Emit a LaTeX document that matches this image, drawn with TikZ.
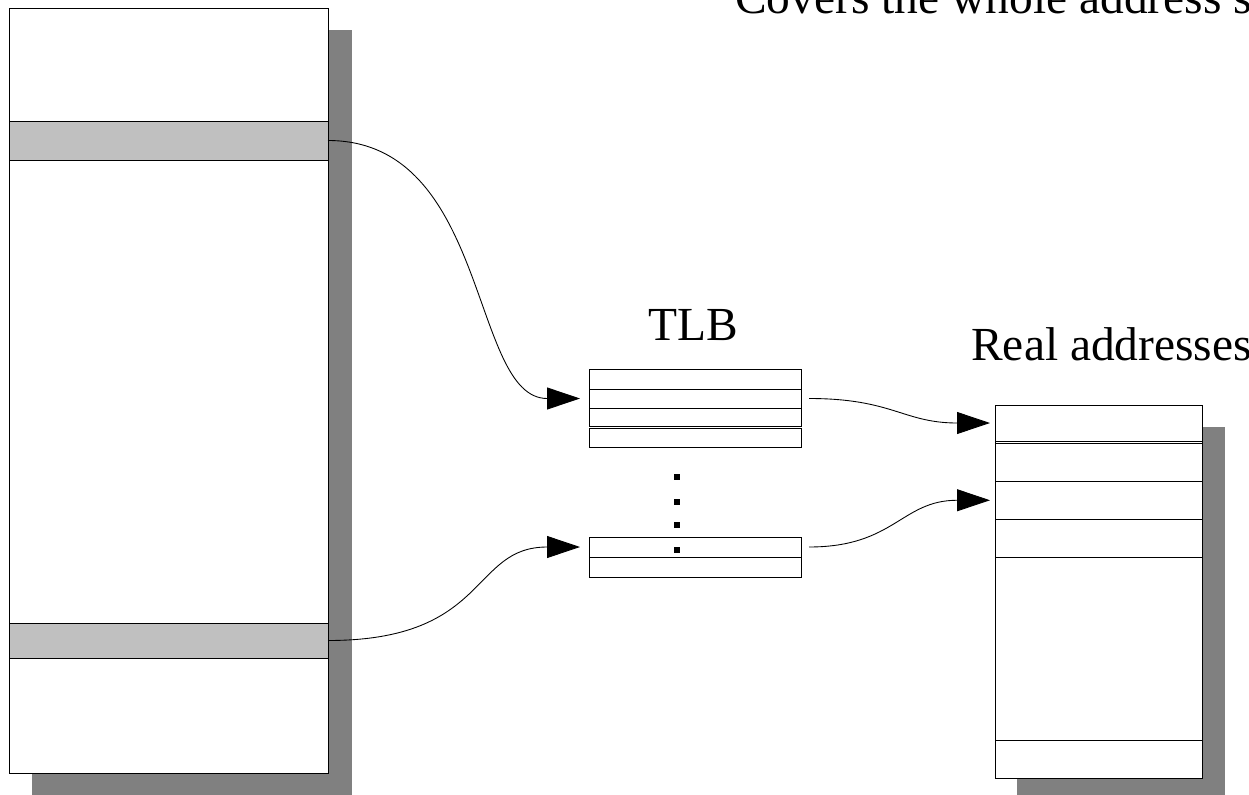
\documentclass[tikz,border=0pt]{standalone}
\usepackage{fontspec}
\setmainfont{Liberation Serif}
\usetikzlibrary{arrows.meta,positioning}
\definecolor{dropgray}{HTML}{808080}
\definecolor{bandgray}{HTML}{C0C0C0}
\tikzset{
  sz/.style 2 args={minimum width=#1*0.02cm, minimum height=#2*0.02cm},
  cell/.style={rectangle, draw=black, fill=white, line width=0.5pt, inner sep=0pt, outer sep=0pt},
  band/.style={cell, fill=bandgray},
  title/.style={inner sep=0pt, font=\fontsize{27}{32}\selectfont},
  link/.style={-{Triangle[length=0.66cm, width=0.44cm]}, line width=0.5pt},
}

\begin{document}
\begin{tikzpicture}[x=0.02cm, y=-0.02cm, node distance=0pt]
  \useasboundingbox (0,0) rectangle (1249,795);

  % drop shadows
  \fill[dropgray] (32,30) rectangle (352,795);
  \fill[dropgray] (1017,427) rectangle (1225,795);

  % virtual address space
  \node[cell, sz={319}{765}, anchor=north west] (vspace) at (9,8) {};
  \node[band, sz={319}{39}, anchor=north west] (band1) at (9,121) {};
  \node[band, sz={319}{35}, anchor=north west] (band2) at (9,623) {};

  % TLB
  \node[cell, sz={212}{20}, anchor=north west] (tlb1) at (589,369) {};
  \node[cell, sz={212}{19}, below=of tlb1] (tlb2) {};
  \node[cell, sz={212}{18}, below=of tlb2] (tlb3) {};
  \node[cell, sz={212}{19}, below=0.045cm of tlb3] (tlb4) {};
  \node[cell, sz={212}{20}, anchor=north west] (tlbn1) at (589,537) {};
  \node[cell, sz={212}{20}, below=of tlbn1] (tlbn2) {};
  \foreach \y in {477,502,525,550}
    \fill (674.3,\y-2.7) rectangle ++(5.4,5.4);

  % real addresses
  \node[cell, sz={207}{373}, anchor=north west] (realbox) at (995,405) {};
  \node[cell, sz={207}{36}, anchor=north west] (real1) at (995,405) {};
  \node[cell, sz={207}{38}, below=0.045cm of real1] (real2) {};
  \node[cell, sz={207}{38}, below=of real2] (real3) {};
  \node[cell, sz={207}{38}, below=of real3] (real4) {};
  \node[cell, sz={207}{183}, below=of real4] (real5) {};
  \node[cell, sz={207}{38}, below=of real5] (real6) {};

  % labels
  \node[title, anchor=base west] (cover) at (735,13) {Covers the whole address space};
  \node[title, anchor=base] (tlbname) at (693,340) {TLB};
  \node[title, anchor=base west] (realname) at (971,360) {Real addresses};

  % mappings
  \draw[link, shorten >=0.18cm] (band1.east) .. controls +(162,0) and +(-119,0) .. (tlb2.west);
  \draw[link, shorten >=0.18cm] (band2.east) .. controls +(162,0) and +(-119,0) .. (tlbn1.west);
  \draw[link, shorten <=0.16cm, shorten >=0.1cm] (tlb2.east) to[out=0, in=180, looseness=1.2] (real1.west);
  \draw[link, shorten <=0.16cm, shorten >=0.1cm] (tlbn1.east) to[out=0, in=180, looseness=1.2] (real3.west);
\end{tikzpicture}
\end{document}
